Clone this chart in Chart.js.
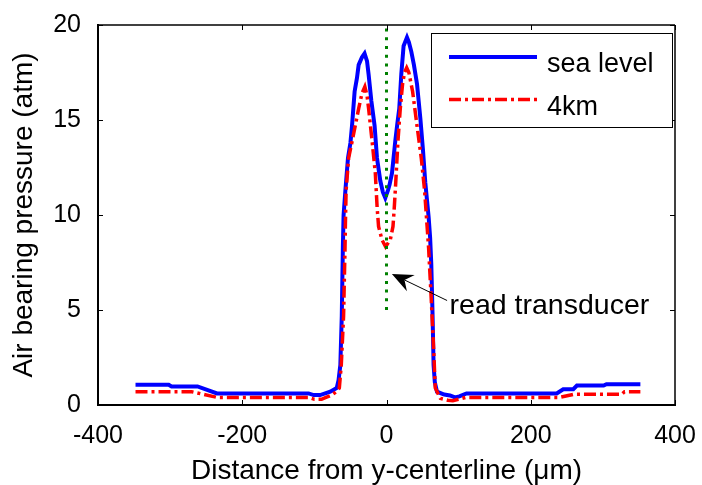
<!DOCTYPE html>
<html>
<head>
<meta charset="utf-8">
<script src="https://cdn.jsdelivr.net/npm/chart.js@4.4.0/dist/chart.umd.min.js"></script>
<style>
  html, body { margin: 0; padding: 0; background: #fff; }
  #wrap { width: 702px; height: 485px; }
</style>
</head>
<body>
<div id="wrap"><canvas id="pressure"></canvas></div>
<script>
// pressure profile at sea level
const seaX = [-348, -302, -298, -262, -235, -108, -101, -92, -78, -69, -66.5, -64, -62, -60.5, -59.5, -57, -53.4, -50, -47.8, -44.2,
    -41, -38.6, -34, -30.4, -27, -24.8, -21, -16.5, -13.2, -8.6, -5, -1.7, 2, 4.3, 7.6, 12.2, 15, 17.7, 20.5, 23.7,
    28.4, 31, 34.4, 38, 42.3, 46.9, 50.6, 53.8, 58.4, 60.5, 62.1, 63.9, 65.3, 67, 70, 80, 88, 95, 101, 111,
    236, 245, 259, 264, 301, 305, 352];
const seaY = [1.07, 1.07, 0.98, 0.98, 0.61, 0.61, 0.52, 0.52, 0.70, 0.90, 1.3, 2.1, 4.7, 8.3, 10.0, 11.3, 13.0, 13.8, 14.7, 16.5,
    17.2, 17.9, 18.3, 18.5, 18.1, 17.4, 16.0, 14.7, 13.0, 11.8, 11.2, 10.9, 11.3, 11.6, 12.2, 13.9, 14.8, 15.6, 17.4, 18.9,
    19.35, 19.1, 18.6, 17.9, 16.9, 15.1, 13.4, 11.7, 9.9, 8.8, 7.4, 4.7, 2.1, 1.2, 0.70, 0.55, 0.50, 0.40, 0.45, 0.61,
    0.61, 0.83, 0.83, 1.02, 1.02, 1.09, 1.09];

// pressure profile at 4 km altitude
const kmX = [-348, -270, -235, -108, -100, -90, -84, -75.6, -68, -65.4, -62.7, -59.5, -57.5, -57, -56, -52.5, -47, -43.3, -38.6, -34,
    -30, -27, -24.8, -20, -15.5, -13, -11, -6.3, -1.2, 5.3, 9, 10.8, 12.5, 15.9, 19.1, 22.3, 25, 28, 31, 36.2,
    42.3, 48.2, 52.8, 56.1, 58.4, 62, 65.3, 67.6, 74.6, 85, 92, 100, 110, 240, 259, 326, 330, 352];
const kmY = [0.70, 0.70, 0.40, 0.40, 0.30, 0.30, 0.40, 0.53, 0.75, 0.9, 2.1, 4.7, 8.3, 9.5, 11.3, 13.0, 14.0, 14.7, 15.6, 16.4,
    16.75, 16.3, 15.6, 13.9, 12.2, 10.4, 9.4, 8.7, 8.33, 8.7, 9.4, 10.4, 11.5, 13.9, 15.6, 16.9, 17.5, 17.75, 17.5, 16.5,
    14.7, 13.0, 11.3, 9.5, 8.25, 5.6, 3.0, 0.9, 0.35, 0.25, 0.23, 0.30, 0.40, 0.40, 0.56, 0.56, 0.70, 0.70];

// read transducer position
const transducerX = [0, 0];
const transducerY = [5, 20];

const xTicks = [-400, -200, 0, 200, 400];
const yTicks = [0, 5, 10, 15, 20];

// arrow + note, in data units
const arrowTail = { x: 84, y: 5.5 };
const arrowTip = { x: 7.5, y: 6.9 };
const notePos = { x: 87.5, y: 4.8 };
const noteText = 'read transducer';

const FONT = "'Liberation Sans', Arial, sans-serif";

const toPoints = (xs, ys) => xs.map((v, i) => ({ x: v, y: ys[i] }));

function line(ctx, x1, y1, x2, y2) {
    ctx.beginPath();
    ctx.moveTo(x1, y1);
    ctx.lineTo(x2, y2);
    ctx.stroke();
}

// box, inward ticks, arrow note and legend
const decorations = {
    id: 'decorations',
    afterDatasetsDraw(chart) {
        const { ctx, chartArea: a, scales: { x, y } } = chart;
        ctx.save();

        // axes box
        ctx.strokeStyle = '#000';
        ctx.lineWidth = 1.5;
        line(ctx, a.left, a.top, a.right, a.top);
        line(ctx, a.right, a.top, a.right, a.bottom);
        ctx.lineWidth = 2;
        line(ctx, a.left, a.top - 1, a.left, a.bottom + 1);
        line(ctx, a.left - 1, a.bottom, a.right + 1, a.bottom);

        ctx.lineWidth = 1;
        const tl = 5;
        xTicks.forEach(v => {
            const px = Math.round(x.getPixelForValue(v)) + 0.5;
            line(ctx, px, a.bottom, px, a.bottom - tl);
            line(ctx, px, a.top, px, a.top + tl);
        });
        yTicks.forEach(v => {
            const py = Math.round(y.getPixelForValue(v)) + 0.5;
            line(ctx, a.left, py, a.left + tl, py);
            line(ctx, a.right, py, a.right - tl, py);
        });

        // arrow pointing at the transducer line
        const tx = x.getPixelForValue(arrowTail.x), ty = y.getPixelForValue(arrowTail.y);
        const hx = x.getPixelForValue(arrowTip.x), hy = y.getPixelForValue(arrowTip.y);
        const len = Math.hypot(hx - tx, hy - ty);
        const dx = (hx - tx) / len, dy = (hy - ty) / len;
        const L = 21, W = 9, back = 14;
        line(ctx, tx, ty, hx - dx * back, hy - dy * back);
        ctx.fillStyle = '#000';
        ctx.beginPath();
        ctx.moveTo(hx, hy);
        ctx.lineTo(hx - dx * L - dy * W, hy - dy * L + dx * W);
        ctx.lineTo(hx - dx * back, hy - dy * back);
        ctx.lineTo(hx - dx * L + dy * W, hy - dy * L - dx * W);
        ctx.closePath();
        ctx.fill();

        ctx.font = '28.5px ' + FONT;
        ctx.textAlign = 'left';
        ctx.textBaseline = 'alphabetic';
        ctx.fillText(noteText, x.getPixelForValue(notePos.x), y.getPixelForValue(notePos.y));

        // legend box in the upper right corner
        const bx = a.right - 244, by = a.top + 8, bw = 241, bh = 94;
        ctx.fillStyle = '#fff';
        ctx.fillRect(bx, by, bw, bh);
        ctx.lineWidth = 1;
        ctx.strokeStyle = '#000';
        ctx.strokeRect(bx + 0.5, by + 0.5, bw, bh);

        const entries = chart.data.datasets.filter(d => d.label);
        entries.forEach((d, i) => {
            const ly = by + 24 + i * 42.5;
            ctx.strokeStyle = d.borderColor;
            ctx.lineWidth = d.borderWidth;
            ctx.setLineDash(d.borderDash || []);
            line(ctx, bx + 18, ly, bx + 106, ly);
            ctx.setLineDash([]);
            ctx.fillStyle = '#000';
            ctx.font = '27px ' + FONT;
            ctx.fillText(d.label, bx + 116, ly + 15);
        });

        ctx.restore();
    }
};

const config = {
    type: 'line',
    data: {
        datasets: [
            {
                label: 'sea level',
                data: toPoints(seaX, seaY),
                borderColor: '#0000ff',
                borderWidth: 4,
                order: 2
            },
            {
                label: '4km',
                data: toPoints(kmX, kmY),
                borderColor: '#ff0000',
                borderWidth: 3.5,
                borderDash: [12, 4, 3, 4],
                order: 1
            },
            {
                label: '',
                data: toPoints(transducerX, transducerY),
                borderColor: '#008000',
                borderWidth: 3,
                borderDash: [3, 5.7],
                borderCapStyle: 'butt',
                order: 0
            }
        ]
    },
    options: {
        responsive: true,
        maintainAspectRatio: false,
        animation: false,
        layout: { padding: { top: 25, right: 27, left: 0, bottom: 0 } },
        elements: {
            point: { radius: 0 },
            line: { tension: 0, fill: false }
        },
        plugins: {
            legend: { display: false },
            tooltip: { enabled: false }
        },
        scales: {
            x: {
                type: 'linear',
                min: -400,
                max: 400,
                grid: { display: false },
                border: { display: false },
                afterBuildTicks: s => { s.ticks = xTicks.map(v => ({ value: v })); },
                afterFit: s => { s.height = 80; s.paddingLeft = 0; s.paddingRight = 0; },
                ticks: {
                    color: '#000',
                    padding: 8,
                    maxRotation: 0,
                    font: { family: FONT, size: 25 }
                },
                title: {
                    display: true,
                    text: 'Distance from y-centerline (\u03bcm)',
                    color: '#000',
                    padding: { top: 0, bottom: 0 },
                    font: { family: FONT, size: 28, lineHeight: 1.0 }
                }
            },
            y: {
                type: 'linear',
                min: 0,
                max: 20,
                grid: { display: false },
                border: { display: false },
                afterBuildTicks: s => { s.ticks = yTicks.map(v => ({ value: v })); },
                afterFit: s => { s.width = 98; s.paddingTop = 0; s.paddingBottom = 0; },
                ticks: {
                    color: '#000',
                    padding: 9,
                    font: { family: FONT, size: 25 }
                },
                title: {
                    display: true,
                    text: 'Air bearing pressure (atm)',
                    color: '#000',
                    padding: { top: 7, bottom: 0 },
                    font: { family: FONT, size: 28 }
                }
            }
        }
    },
    plugins: [decorations]
};

const pressureChart = new Chart(document.getElementById('pressure').getContext('2d'), config);
</script>
</body>
</html>
